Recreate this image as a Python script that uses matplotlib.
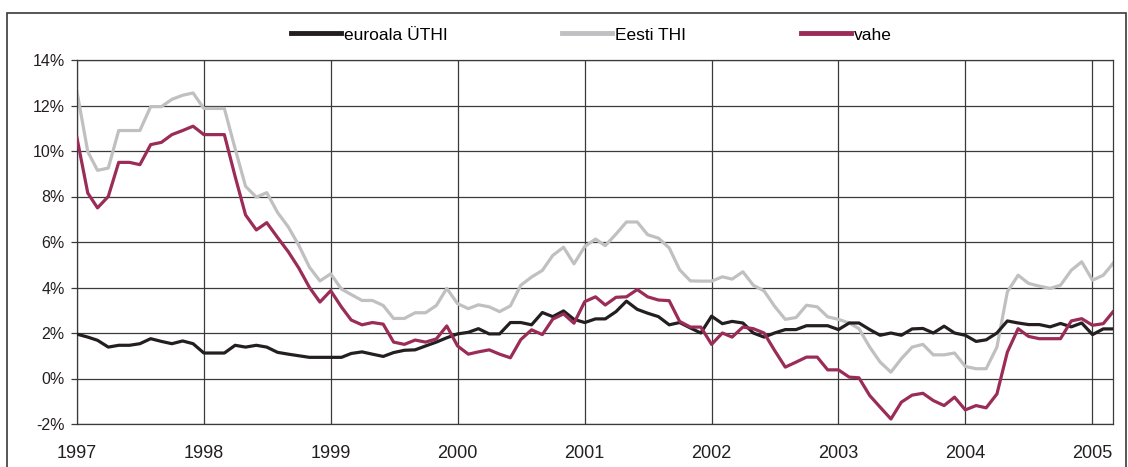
import matplotlib
matplotlib.use("Agg")
import matplotlib.pyplot as plt
import matplotlib.dates as mdates
import matplotlib.ticker as mticker
import pandas as pd
from matplotlib.patches import Rectangle

plt.rcParams['font.family'] = ['Liberation Sans', 'DejaVu Sans']

# monthly values, Jan 1997 .. Mar 2005
euroala = [
    1.95, 1.82, 1.68, 1.38, 1.46, 1.46, 1.53, 1.75, 1.63, 1.53, 1.65, 1.53,
    1.12, 1.12, 1.12, 1.46, 1.38, 1.46, 1.38, 1.15, 1.07, 1.00, 0.93, 0.93,
    0.93, 0.93, 1.10, 1.17, 1.07, 0.97, 1.14, 1.24, 1.26, 1.43, 1.60, 1.79,
    1.96, 2.03, 2.19, 1.96, 1.96, 2.46, 2.46, 2.36, 2.90, 2.72, 2.97, 2.60,
    2.46, 2.62, 2.62, 2.94, 3.40, 3.04, 2.87, 2.72, 2.36, 2.46, 2.22, 2.00,
    2.74, 2.41, 2.51, 2.44, 2.00, 1.82, 2.00, 2.15, 2.15, 2.32, 2.32, 2.32,
    2.15, 2.44, 2.44, 2.15, 1.90, 2.00, 1.90, 2.18, 2.20, 2.00, 2.30, 2.00,
    1.90, 1.63, 1.70, 2.00, 2.53, 2.44, 2.37, 2.37, 2.27, 2.42, 2.27, 2.44,
    1.93, 2.18, 2.18,
]
eesti = [
    12.60, 9.97, 9.15, 9.25, 10.90, 10.90, 10.90, 11.95, 11.95, 12.27, 12.45, 12.55,
    11.87, 11.87, 11.87, 10.10, 8.45, 7.97, 8.17, 7.30, 6.66, 5.86, 4.89, 4.29,
    4.60, 3.93, 3.69, 3.43, 3.43, 3.21, 2.64, 2.64, 2.89, 2.89, 3.21, 3.96,
    3.29, 3.07, 3.24, 3.15, 2.94, 3.19, 4.10, 4.46, 4.75, 5.41, 5.77, 5.04,
    5.80, 6.13, 5.84, 6.35, 6.88, 6.88, 6.32, 6.17, 5.74, 4.78, 4.29, 4.28,
    4.28, 4.47, 4.37, 4.69, 4.10, 3.85, 3.18, 2.60, 2.68, 3.22, 3.15, 2.71,
    2.60, 2.44, 2.19, 1.38, 0.72, 0.28, 0.87, 1.38, 1.50, 1.04, 1.04, 1.12,
    0.53, 0.43, 0.43, 1.38, 3.81, 4.54, 4.18, 4.06, 3.96, 4.10, 4.76, 5.13,
    4.32, 4.54, 5.06,
]
vahe = [
    10.57, 8.15, 7.50, 8.00, 9.50, 9.50, 9.40, 10.28, 10.38, 10.72, 10.90, 11.09,
    10.72, 10.72, 10.72, 8.88, 7.19, 6.53, 6.85, 6.20, 5.57, 4.86, 4.00, 3.36,
    3.86, 3.14, 2.57, 2.36, 2.46, 2.39, 1.60, 1.50, 1.69, 1.60, 1.74, 2.31,
    1.43, 1.07, 1.17, 1.26, 1.07, 0.91, 1.71, 2.14, 1.93, 2.61, 2.84, 2.43,
    3.38, 3.59, 3.23, 3.57, 3.59, 3.91, 3.59, 3.45, 3.42, 2.51, 2.26, 2.26,
    1.50, 2.00, 1.82, 2.26, 2.19, 2.00, 1.24, 0.50, 0.72, 0.94, 0.94, 0.38,
    0.38, 0.06, 0.03, -0.75, -1.26, -1.78, -1.04, -0.73, -0.65, -0.97, -1.19, -0.82,
    -1.38, -1.19, -1.29, -0.68, 1.16, 2.19, 1.85, 1.75, 1.75, 1.75, 2.53, 2.63,
    2.34, 2.41, 2.93,
]
months = pd.date_range('1997-01-01', periods=len(euroala), freq='MS')
years = list(range(1997, 2006))

fig = plt.figure(figsize=(11.28, 4.67), dpi=100)
ax = fig.add_axes([77/1128, 1-424/467, (1113-77)/1128, (424-60)/467])

ax.plot(months, euroala, color='#231f20', lw=2.3, label='euroala ÜTHI', zorder=3)
ax.plot(months, eesti, color='#c0c0c2', lw=2.3, label='Eesti THI', zorder=2)
ax.plot(months, vahe, color='#9a2c57', lw=2.3, label='vahe', zorder=4)

ax.set_xlim(months[0], months[-1])
ax.set_ylim(-2, 14)
ax.yaxis.set_major_locator(mticker.MultipleLocator(2))
ax.yaxis.set_major_formatter(mticker.FuncFormatter(lambda v, p: f'{v:.0f}%'))
ax.set_xticks([pd.Timestamp(y, 1, 1) for y in years])
ax.xaxis.set_major_formatter(mdates.DateFormatter('%Y'))

ax.grid(True, color='#3a3a3a', lw=0.9)
ax.set_axisbelow(True)
for s in ax.spines.values():
    s.set_color('#3a3a3a')
    s.set_linewidth(0.9)
ax.tick_params(axis='y', length=4, width=0.9, color='#3a3a3a', pad=5,
               labelsize=11.5, labelcolor='#231f20')
ax.tick_params(axis='x', length=0, pad=15, labelsize=13, labelcolor='#231f20')

leg = fig.legend(loc='center', bbox_to_anchor=(0.524, 1-35/467), ncol=3, frameon=False,
                 fontsize=12.5, handlelength=2.9, handletextpad=0.15, columnspacing=6.6)
for h in leg.legend_handles:
    h.set_linewidth(3.5)

# outer frame
fig.patches.append(Rectangle((7/1128, -0.05), (1126-7)/1128, 1.05-13/467,
                             transform=fig.transFigure, fill=False,
                             edgecolor='#3a3a3a', lw=1.2))

fig.savefig('out.png', dpi=100)
